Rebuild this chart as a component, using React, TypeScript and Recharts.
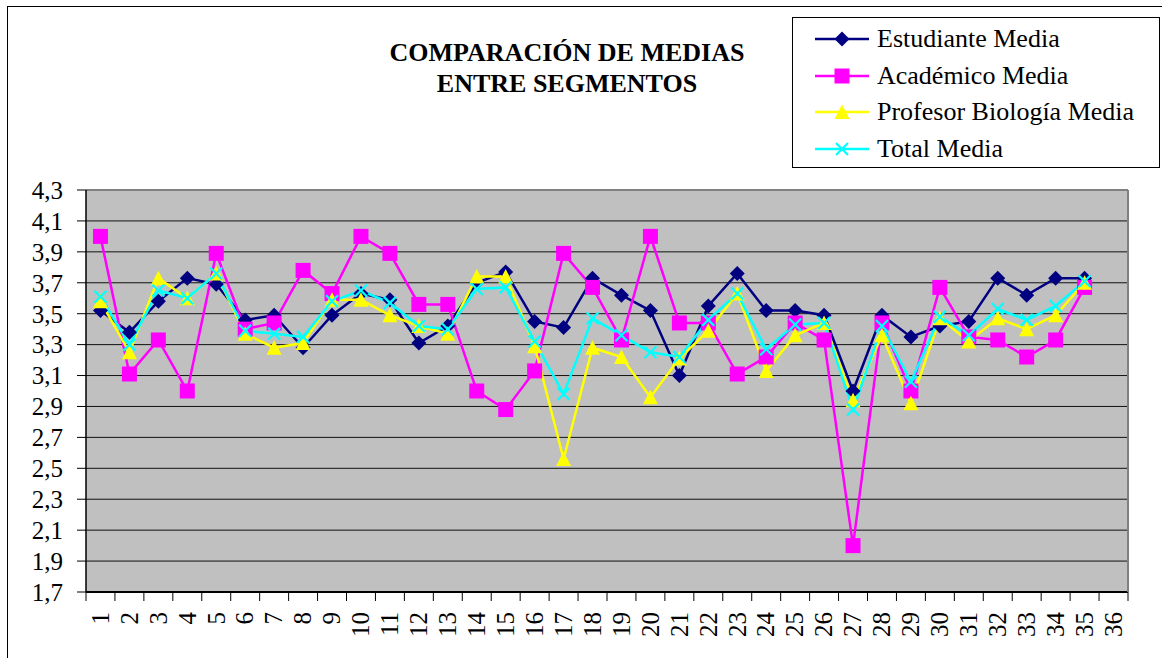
import React from 'react'
import { LineChart, Line, XAxis, YAxis, CartesianGrid } from 'recharts'

const FONT = "'Liberation Serif', 'Times New Roman', serif"

const categories = [
  '1', '2', '3', '4', '5', '6', '7', '8', '9', '10', '11', '12',
  '13', '14', '15', '16', '17', '18', '19', '20', '21', '22', '23', '24',
  '25', '26', '27', '28', '29', '30', '31', '32', '33', '34', '35', '36',
]

const estudiante = [
  3.52, 3.38, 3.58, 3.73, 3.69, 3.46, 3.49, 3.28, 3.49, 3.63, 3.59, 3.31,
  3.42, 3.70, 3.77, 3.45, 3.41, 3.73, 3.62, 3.52, 3.10, 3.55, 3.76, 3.52,
  3.52, 3.49, 3.00, 3.49, 3.35, 3.42, 3.45, 3.73, 3.62, 3.73, 3.73, null,
]
const academico = [
  4.00, 3.11, 3.33, 3.00, 3.89, 3.40, 3.44, 3.78, 3.63, 4.00, 3.89, 3.56,
  3.56, 3.00, 2.88, 3.13, 3.89, 3.67, 3.33, 4.00, 3.44, 3.44, 3.11, 3.22,
  3.44, 3.33, 2.00, 3.44, 3.00, 3.67, 3.35, 3.33, 3.22, 3.33, 3.67, null,
]
const profesor = [
  3.58, 3.25, 3.73, 3.60, 3.76, 3.37, 3.28, 3.31, 3.59, 3.59, 3.49, 3.42,
  3.37, 3.74, 3.74, 3.29, 2.56, 3.28, 3.22, 2.96, 3.21, 3.39, 3.63, 3.13,
  3.36, 3.44, 2.94, 3.36, 2.92, 3.47, 3.32, 3.47, 3.40, 3.49, 3.70, null,
]
const total = [
  3.61, 3.30, 3.65, 3.60, 3.76, 3.39, 3.37, 3.35, 3.58, 3.65, 3.57, 3.42,
  3.40, 3.66, 3.67, 3.32, 2.98, 3.47, 3.36, 3.25, 3.22, 3.46, 3.63, 3.27,
  3.43, 3.44, 2.88, 3.42, 3.06, 3.48, 3.36, 3.53, 3.46, 3.55, 3.71, null,
]

const yTicks = [1.7, 1.9, 2.1, 2.3, 2.5, 2.7, 2.9, 3.1, 3.3, 3.5, 3.7, 3.9, 4.1, 4.3]

const series = [
  { key: 'estudiante', name: 'Estudiante Media', color: '#000080', shape: 'diamond' },
  { key: 'academico', name: 'Académico Media', color: '#FF00FF', shape: 'square' },
  { key: 'profesor', name: 'Profesor Biología Media', color: '#FFFF00', shape: 'triangle' },
  { key: 'total', name: 'Total Media', color: '#00FFFF', shape: 'cross' },
]

const data = categories.map((cat, i) => ({
  cat,
  estudiante: estudiante[i],
  academico: academico[i],
  profesor: profesor[i],
  total: total[i],
}))

const W = 1162
const H = 658
const margin = { top: 189, right: 33, bottom: 0, left: 0 }
const Y_AXIS_W = 86
const PLOT_W = W - margin.left - margin.right - Y_AXIS_W - 1
const BAND = PLOT_W / categories.length

function Marker({ shape, color, cx, cy }: { shape: string; color: string; cx: number; cy: number }) {
  if (shape === 'diamond') {
    const r = 7.5
    return <polygon points={`${cx},${cy - r} ${cx + r},${cy} ${cx},${cy + r} ${cx - r},${cy}`} fill={color} />
  }
  if (shape === 'square') {
    return <rect x={cx - 7.5} y={cy - 7.5} width={15} height={15} fill={color} />
  }
  if (shape === 'triangle') {
    return <polygon points={`${cx},${cy - 7.5} ${cx + 7.5},${cy + 7} ${cx - 7.5},${cy + 7}`} fill={color} />
  }
  const r = 6
  return (
    <g stroke={color} strokeWidth={2.2}>
      <line x1={cx - r} y1={cy - r} x2={cx + r} y2={cy + r} />
      <line x1={cx - r} y1={cy + r} x2={cx + r} y2={cy - r} />
    </g>
  )
}

const XTick = (props: any) => {
  const { x, y, payload, index } = props
  const top = y - 20
  return (
    <g>
      <line x1={x - BAND / 2} x2={x - BAND / 2} y1={top} y2={top + 9} stroke="#000" />
      {index === categories.length - 1 && (
        <line x1={x + BAND / 2} x2={x + BAND / 2} y1={top} y2={top + 9} stroke="#000" />
      )}
      <text
        x={x}
        y={y}
        transform={`rotate(-90 ${x} ${y})`}
        textAnchor="end"
        dy="0.33em"
        fontSize={25}
        fontFamily={FONT}
        fill="#000"
      >
        {payload.value}
      </text>
    </g>
  )
}

function LegendBox() {
  return (
    <div
      style={{
        position: 'absolute',
        left: 792,
        top: 17,
        width: 368,
        height: 151,
        boxSizing: 'border-box',
        border: '1px solid #000',
        background: '#fff',
        fontFamily: FONT,
        fontSize: 26,
      }}
    >
      {series.map((s, i) => (
        <div
          key={s.key}
          style={{
            position: 'absolute',
            left: 22,
            top: 3 + i * 36.5,
            height: 36,
            display: 'flex',
            alignItems: 'center',
            whiteSpace: 'nowrap',
          }}
        >
          <svg width={54} height={20} style={{ overflow: 'visible' }}>
            <line x1={0} x2={54} y1={10} y2={10} stroke={s.color} strokeWidth={2.5} />
            <Marker shape={s.shape} color={s.color} cx={27} cy={10} />
          </svg>
          <span style={{ marginLeft: 8 }}>{s.name}</span>
        </div>
      ))}
    </div>
  )
}

export default function App() {
  return (
    <div style={{ position: 'absolute', left: 0, top: 0, width: W, height: H, overflow: 'hidden', background: '#fff' }}>
      <div
        style={{
          position: 'absolute',
          left: 7,
          top: 6,
          width: W - 7,
          height: H - 6,
          borderLeft: '1px solid #000',
          borderTop: '1px solid #000',
        }}
      />
      <div
        style={{
          position: 'absolute',
          left: 367,
          top: 37,
          width: 400,
          textAlign: 'center',
          fontFamily: FONT,
          fontWeight: 'bold',
          fontSize: 26,
          lineHeight: '31px',
        }}
      >
        COMPARACIÓN DE MEDIAS
        <br />
        ENTRE SEGMENTOS
      </div>
      <div style={{ position: 'absolute', left: 0, top: 0 }}>
        <LineChart width={W} height={H} data={data} margin={margin}>
          <CartesianGrid vertical={false} fill="#C0C0C0" stroke="#111" fillOpacity={1} />
          <XAxis
            dataKey="cat"
            interval={0}
            height={66}
            tickSize={9}
            tickMargin={11}
            tickLine={false}
            padding={{ left: BAND / 2, right: BAND / 2 }}
            axisLine={{ stroke: '#000', strokeWidth: 2 }}
            tick={<XTick />}
          />
          <XAxis
            xAxisId="top"
            orientation="top"
            dataKey="cat"
            height={1}
            tick={false}
            tickLine={false}
            axisLine={{ stroke: '#808080', strokeWidth: 2 }}
          />
          <YAxis
            domain={[1.7, 4.3]}
            ticks={yTicks}
            interval={0}
            width={Y_AXIS_W}
            tickSize={9}
            tickMargin={14}
            tickLine={{ stroke: '#000' }}
            axisLine={{ stroke: '#000', strokeWidth: 1.5 }}
            tick={{ fontSize: 25, fill: '#000', fontFamily: FONT }}
            tickFormatter={(v: number) => v.toFixed(1).replace('.', ',')}
          />
          <YAxis
            yAxisId="right"
            orientation="right"
            domain={[1.7, 4.3]}
            width={1}
            tick={false}
            tickLine={false}
            axisLine={{ stroke: '#808080', strokeWidth: 2 }}
          />
          {series.map((s) => (
            <Line
              key={s.key}
              dataKey={s.key}
              name={s.name}
              type="linear"
              stroke={s.color}
              strokeWidth={2.5}
              isAnimationActive={false}
              connectNulls={false}
              dot={(p: any) =>
                p.cx == null || p.cy == null || p.value == null ? (
                  <g key={`${s.key}-${p.index}`} />
                ) : (
                  <g key={`${s.key}-${p.index}`}>
                    <Marker shape={s.shape} color={s.color} cx={p.cx} cy={p.cy} />
                  </g>
                )
              }
              activeDot={false}
            />
          ))}
        </LineChart>
      </div>
      <LegendBox />
    </div>
  )
}
